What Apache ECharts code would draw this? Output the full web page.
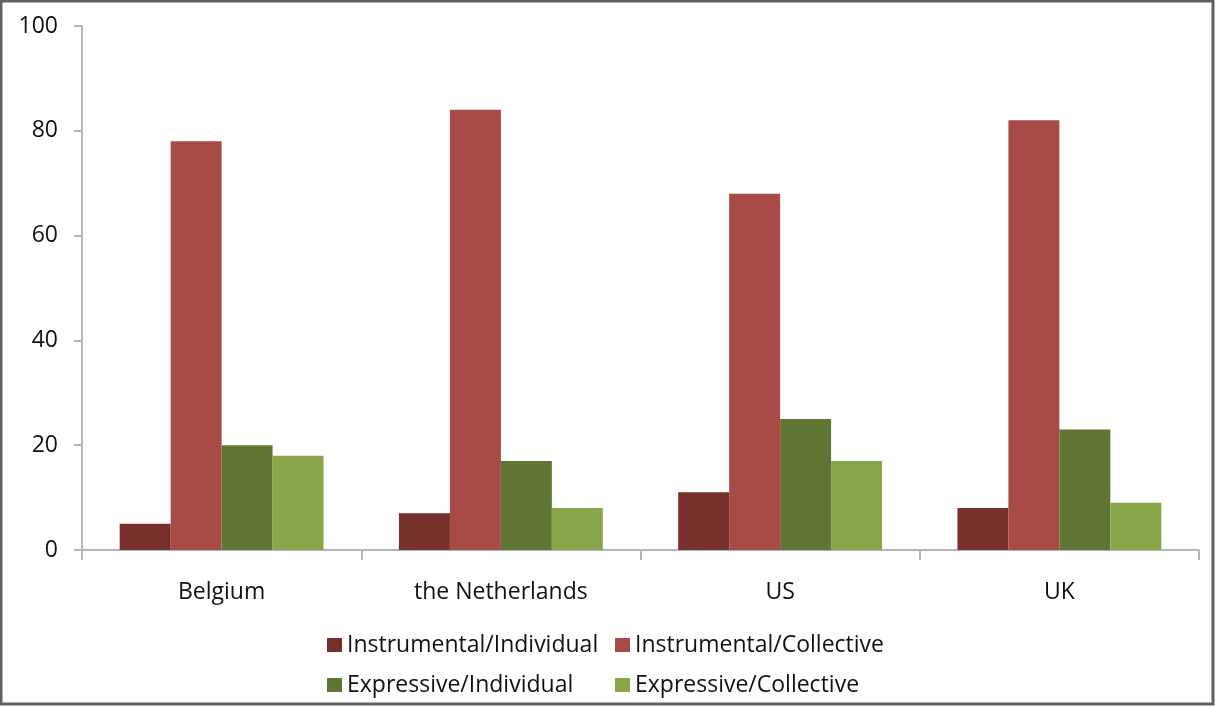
<!DOCTYPE html>
<html>
<head>
<meta charset="utf-8">
<script src="https://cdn.jsdelivr.net/npm/echarts@6/dist/echarts.min.js"></script>
<style>
  html, body { margin: 0; padding: 0; background: #fff; }
  #chart { width: 1215px; height: 706px; }
</style>
</head>
<body>
<div id="chart"></div>
<script>
// data
const countries = ['Belgium', 'the Netherlands', 'US', 'UK']
const instrumentalIndividual = [5, 7, 11, 8]
const instrumentalCollective = [78, 84, 68, 82]
const expressiveIndividual = [20, 17, 25, 23]
const expressiveCollective = [18, 8, 17, 9]
const yTicks = [0, 20, 40, 60, 80, 100]

const seriesNames = ['Instrumental/Individual', 'Instrumental/Collective', 'Expressive/Individual', 'Expressive/Collective']
const seriesData = [instrumentalIndividual, instrumentalCollective, expressiveIndividual, expressiveCollective]
const colors = ['#772f2c', '#a84a46', '#5f7534', '#8aa64a']

const font = '"Open Sans", "Liberation Sans", sans-serif'
const chart = echarts.init(document.getElementById('chart'))

const option = {
  animation: false,
  color: colors,
  grid: { left: 82, right: 16, top: 26, bottom: 156 },
  legend: {
    left: 322,
    top: 622,
    width: 600,
    itemWidth: 15,
    itemHeight: 14,
    itemGap: 4,
    icon: 'rect',
    data: seriesNames,
    textStyle: {
      fontFamily: font,
      fontSize: 23,
      color: '#111',
      width: 264,
      lineHeight: 36
    }
  },
  graphic: [{
    type: 'rect',
    shape: { x: 1, y: 1, width: 1212, height: 703 },
    style: { fill: 'none', stroke: '#606060', lineWidth: 3 },
    silent: true
  }],
  xAxis: {
    type: 'category',
    data: countries,
    axisLine: { lineStyle: { color: '#b5b5b5', width: 2 } },
    axisTick: { show: true, length: 10, lineStyle: { color: '#b5b5b5', width: 2 } },
    axisLabel: { fontFamily: font, fontSize: 23, color: '#111', margin: 31 }
  },
  yAxis: {
    type: 'value',
    min: yTicks[0],
    max: yTicks[yTicks.length - 1],
    interval: 20,
    axisLine: { show: true, lineStyle: { color: '#b5b5b5', width: 2 } },
    axisTick: { show: true, length: 8, lineStyle: { color: '#b5b5b5', width: 2 } },
    splitLine: { show: false },
    axisLabel: { fontFamily: font, fontSize: 23, color: '#111', margin: 24 }
  },
  series: seriesNames.map((name, i) => ({
    name: name,
    type: 'bar',
    data: seriesData[i],
    barGap: '0%',
    barCategoryGap: '27%',
    itemStyle: { color: colors[i] }
  }))
}

chart.setOption(option)
</script>
</body>
</html>
